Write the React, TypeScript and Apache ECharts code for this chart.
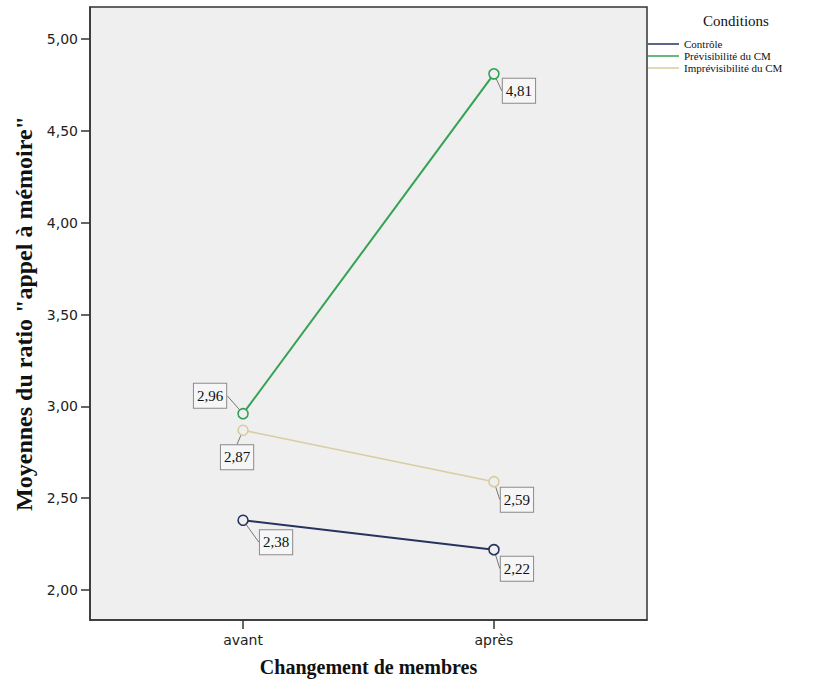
import React, { useEffect, useRef } from "react";
import * as echarts from "echarts";

const categories = ["avant", "après"];
const seriesNames = ["Contrôle", "Prévisibilité du CM", "Imprévisibilité du CM"];
const controle = [2.38, 2.22];
const previsibilite = [2.96, 4.81];
const imprevisibilite = [2.87, 2.59];
const yTicks = [2.0, 2.5, 3.0, 3.5, 4.0, 4.5, 5.0];

const colors = ["#27335f", "#34a253", "#d8cda0"];
const labelOffsets = [
  [[33, 22], [23, 19]],
  [[-33, -18], [25, 17]],
  [[-6, 27], [23, 18]],
];

const fmt = (v: number) => v.toFixed(2).replace(".", ",");
const SERIF = "'Liberation Serif', 'Times New Roman', serif";
const SANS = "'DejaVu Sans', Verdana, sans-serif";
const BG = "#efefef";

export default function App() {
  const ref = useRef<HTMLDivElement>(null);
  useEffect(() => {
    if (!ref.current) return;
    const chart = echarts.init(ref.current, undefined, { renderer: "svg" });
    const values = [controle, previsibilite, imprevisibilite];
    const series = values.map((vals, si) => ({
      type: "line",
      name: seriesNames[si],
      data: vals.map((v, i) => [i, v]),
      symbol: "circle",
      symbolSize: 10,
      z: si === 0 ? 3 : si === 1 ? 4 : 2,
      lineStyle: { color: colors[si], width: si === 2 ? 1.6 : 2 },
      itemStyle: { color: BG, borderColor: colors[si], borderWidth: 1.6 },
      label: {
        show: true,
        position: "inside",
        formatter: (p: any) => fmt(p.value[1]),
        fontFamily: SERIF,
        fontSize: 15,
        color: "#111",
        backgroundColor: "#f6f6f6",
        borderColor: "#8a8a8a",
        borderWidth: 1,
        padding: [5, 3, 4, 3],
      },
      labelLayout: (p: any) => {
        const o = labelOffsets[si][p.dataIndex];
        return { dx: o[0], dy: o[1] };
      },
      labelLine: { show: true, lineStyle: { color: "#777", width: 1 } },
    }));

    chart.setOption({
      animation: false,
      backgroundColor: "#ffffff",
      title: {
        text: "Conditions",
        left: 731,
        top: 8,
        textAlign: "center",
        textStyle: { fontFamily: SERIF, fontSize: 15, fontWeight: "normal", color: "#111" },
      },
      legend: {
        orient: "vertical",
        left: 648,
        top: 38,
        padding: 0,
        icon: "rect",
        itemWidth: 31,
        itemHeight: 1.5,
        itemGap: 0,
        textStyle: { fontFamily: SERIF, fontSize: 11, lineHeight: 12, color: "#111" },
        data: seriesNames.map((n, i) => ({ name: n, itemStyle: { color: colors[i], borderWidth: 0 } })),
      },
      grid: {
        left: 90,
        right: 167,
        top: 7,
        bottom: 61,
        outerBoundsMode: "none",
        containLabel: false,
        show: true,
        backgroundColor: BG,
        borderColor: "#333",
        borderWidth: 1.5,
      },
      xAxis: {
        type: "value",
        min: -0.61,
        max: 1.61,
        name: "Changement de membres",
        nameLocation: "middle",
        nameGap: 37,
        nameTextStyle: { fontFamily: SERIF, fontSize: 20, fontWeight: "bold", color: "#111" },
        splitLine: { show: false },
        axisLine: { onZero: false, lineStyle: { color: "#333", width: 1.5 } },
        axisTick: { show: true, length: 9, customValues: [0, 1], lineStyle: { color: "#333", width: 1.5 } },
        axisLabel: {
          customValues: [0, 1],
          formatter: (v: number) => categories[Math.round(v)] ?? "",
          fontFamily: SANS,
          fontSize: 14,
          color: "#222",
          margin: 13,
        },
      },
      yAxis: {
        type: "value",
        min: 1.837,
        max: 5.174,
        name: 'Moyennes du ratio "appel à mémoire"',
        nameLocation: "middle",
        nameGap: 52,
        nameTextStyle: { fontFamily: SERIF, fontSize: 24, fontWeight: "bold", color: "#111" },
        splitLine: { show: false },
        axisLine: { show: true, onZero: false, lineStyle: { color: "#333", width: 1.5 } },
        axisTick: { show: true, length: 9, customValues: yTicks, lineStyle: { color: "#333", width: 1.5 } },
        axisLabel: {
          customValues: yTicks,
          formatter: (v: number) => fmt(v),
          fontFamily: SANS,
          fontSize: 14,
          color: "#222",
          margin: 12,
        },
      },
      series,
    });
    return () => chart.dispose();
  }, []);
  return <div ref={ref} style={{ position: "absolute", left: 0, top: 0, width: 814, height: 681 }} />;
}
